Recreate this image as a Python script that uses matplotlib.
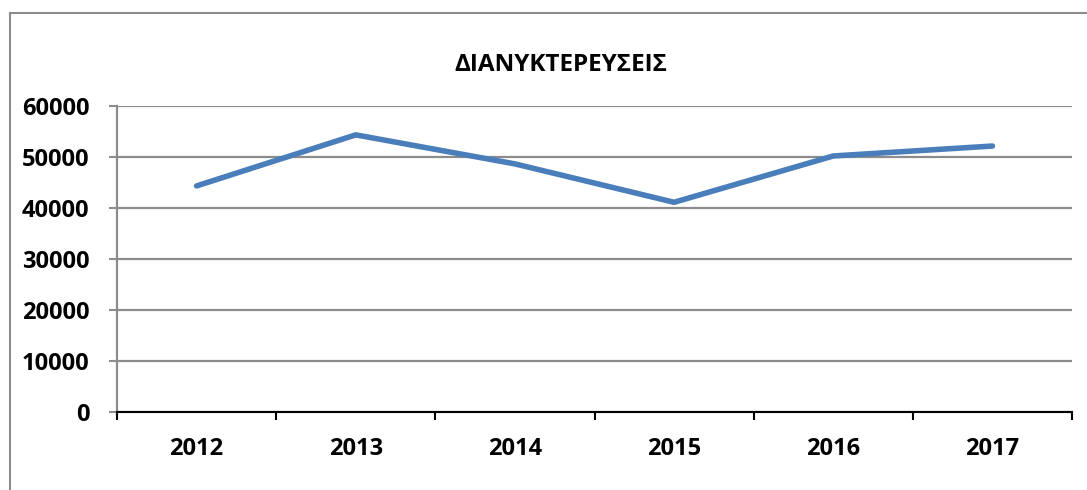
import matplotlib.pyplot as plt
import numpy as np
from matplotlib.lines import Line2D

# Overnight stays per year
years = ['2012', '2013', '2014', '2015', '2016', '2017']
stays = [44330, 54340, 48650, 41120, 50200, 52150]
yticks = [0, 10000, 20000, 30000, 40000, 50000, 60000]

plt.rcParams['font.family'] = ['Open Sans', 'DejaVu Sans']

W, H = 1087, 490
fig = plt.figure(figsize=(W / 100, H / 100), dpi=100)
ax = fig.add_axes([117 / W, (H - 412) / H, (1072 - 117) / W, (412 - 106) / H])

x = np.arange(len(years))
ax.plot(x, stays, color='#4A7EBB', lw=4, solid_capstyle='round', solid_joinstyle='round', zorder=3)

ax.set_xlim(-0.5, len(years) - 0.5)
ax.set_ylim(0, 60000)

# y axis and gridlines
ax.set_yticks(yticks)
ax.set_yticklabels([str(v) for v in yticks], fontsize=17, fontweight='bold')
ax.yaxis.grid(True, color='#8C8C8C', lw=1.6)
ax.tick_params(axis='y', length=6, width=1.5, color='#8C8C8C', pad=14)

# category axis: ticks between categories
ax.set_xticks(x)
ax.set_xticklabels(years, fontsize=17, fontweight='bold')
ax.set_xticks(np.arange(-0.5, len(years)), minor=True)
ax.tick_params(axis='x', which='major', length=0, pad=18)
ax.tick_params(axis='x', which='minor', length=6, width=1.5, color='black')

for s in ['top', 'right']:
    ax.spines[s].set_visible(False)
ax.spines['left'].set_color('#8C8C8C')
ax.spines['left'].set_linewidth(1.6)
ax.spines['bottom'].set_color('black')
ax.spines['bottom'].set_linewidth(1.5)
ax.spines['bottom'].set_zorder(4)
ax.set_axisbelow(True)

fig.text(561 / W, 1 - 65 / H, 'ΔΙΑΝΥΚΤΕΡΕΥΣΕΙΣ', ha='center', va='center',
         fontsize=17.5, fontweight='bold')

# chart area border
fig.add_artist(Line2D([9.5 / W, 9.5 / W], [0, 1 - 13 / H], color='#8C8C8C', lw=1.5, transform=fig.transFigure))
fig.add_artist(Line2D([9.5 / W, 1], [1 - 13 / H, 1 - 13 / H], color='#8C8C8C', lw=1.5, transform=fig.transFigure))

fig.savefig('out.png', dpi=100)
